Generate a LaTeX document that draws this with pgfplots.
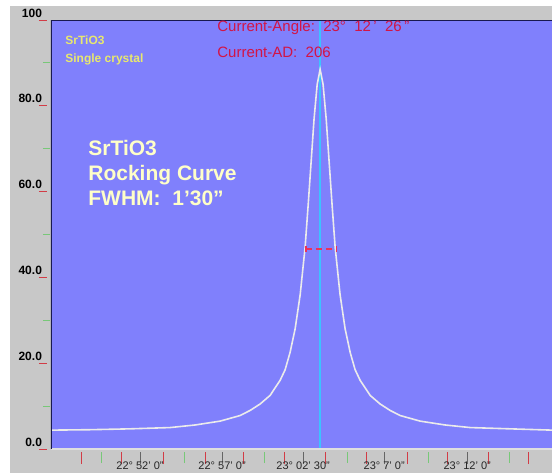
\documentclass[border=0pt]{standalone}
\usepackage{pgfplots}
\pgfplotsset{compat=1.18}
\usepackage{fontspec}
\setmainfont{Liberation Sans}

\definecolor{plotbg}{RGB}{128,128,252}
\definecolor{panelgrey}{RGB}{200,200,200}
\definecolor{navyline}{RGB}{25,25,80}
\definecolor{tickred}{RGB}{210,60,70}
\definecolor{tickgreen}{RGB}{120,200,120}
\definecolor{curvecol}{RGB}{235,235,235}
\definecolor{peakcyan}{RGB}{60,195,255}
\definecolor{smallyellow}{RGB}{232,232,110}
\definecolor{cream}{RGB}{255,255,200}
\definecolor{redtext}{RGB}{210,20,70}
\definecolor{fwhmred}{RGB}{235,50,90}

\begin{document}
\begin{tikzpicture}
\path[use as bounding box] (-25.5pt,-12pt) rectangle (250.5pt,224.5pt);
\fill[white] (-25.5pt,-12pt) rectangle (250.5pt,224.5pt);
\fill[panelgrey] (-20.5pt,-12pt) rectangle (250.5pt,221.5pt);

% data axis with y ticks
\begin{axis}[
    at={(0pt,0pt)}, anchor=south west,
    scale only axis,
    width=250.5pt, height=214.5pt,
    xmin=46.55, xmax=77.21,
    ymin=0, ymax=100,
    axis background/.style={fill=plotbg},
    axis line style={draw=none},
    xtick=\empty,
    ytick={0,20,40,60,80,100},
    yticklabels={0.0,20.0,40.0,60.0,80.0,100},
    minor ytick={10,30,50,70,90},
    ytick pos=left,
    tick align=outside,
    major tick length=4pt,
    minor tick length=3.5pt,
    major tick style={draw=tickred, line width=0.5pt, xshift=-2pt},
    minor tick style={draw=tickgreen, line width=0.5pt, xshift=-0.5pt},
    yticklabel style={font=\bfseries\fontsize{6}{6}\selectfont, text=black, xshift=3pt, yshift=3.5pt},
    clip=true,
]
\addplot[peakcyan, line width=0.8pt] coordinates {(63.02,0) (63.02,100)};
\addplot[curvecol, line width=0.8pt] coordinates {
    (46.55,4.4) (48.94,4.5) (51.39,4.7) (53.84,5.0) (55.37,5.6) (56.90,6.5)
    (58.12,7.8) (58.74,9.0) (59.35,10.5) (59.96,12.5) (60.57,16) (60.88,18.5)
    (61.18,22.5) (61.49,28) (61.80,36) (62.10,47) (62.29,57) (62.47,67)
    (62.65,77) (62.84,85) (63.02,88.5) (63.20,85) (63.39,77) (63.57,67)
    (63.75,57) (63.94,47) (64.24,36) (64.55,28) (64.86,22.5) (65.16,18.5)
    (65.47,16) (66.08,12.5) (66.69,10.5) (67.30,9.0) (67.92,7.8) (69.14,6.5)
    (70.67,5.6) (72.20,5.0) (74.65,4.7) (77.21,4.4)
};
\addplot[fwhmred, line width=0.6pt, densely dashed, mark=|, mark options={solid}, mark size=1.5pt] coordinates {(62.16,46.6) (64.0,46.6)};
\draw[white!75!gray, line width=0.6pt] (rel axis cs:0,0) -- (rel axis cs:1,0);
\draw[navyline, line width=1pt] (rel axis cs:0,0) -- (rel axis cs:0,1) -- (rel axis cs:1,1);
\end{axis}

% overlay axis for the x ticks
\begin{axis}[
    at={(0pt,0pt)}, anchor=south west,
    scale only axis,
    width=250.5pt, height=214.5pt,
    xmin=46.55, xmax=77.21,
    ymin=0, ymax=100,
    axis line style={draw=none},
    ytick=\empty,
    xtick={48.43,50.87,53.45,55.98,58.35,60.85,63.37,65.88,68.38,70.84,73.35,75.8},
    xticklabels={},
    minor xtick={49.67,54.69,59.59,64.67,69.63,74.6},
    extra x ticks={52,57.02,61.98,66.94,72.02},
    extra x tick labels={22° 52' 0", 22° 57' 0", 23° 02' 30", 23° 7' 0", 23° 12' 0"},
    extra x tick style={major tick style={draw=black!60}},
    xtick pos=bottom,
    tick align=outside,
    major tick length=6pt,
    minor tick length=5.5pt,
    major tick style={draw=tickred, line width=0.5pt, yshift=-1.5pt},
    minor tick style={draw=tickgreen, line width=0.5pt, yshift=-1.5pt},
    xticklabel style={font=\fontsize{5.5}{5.5}\selectfont, text=black!85, inner sep=0.5pt, yshift=0.5pt},
]
\addplot[draw=none] coordinates {(50,50)};
\end{axis}

\node[anchor=west, inner sep=0pt, text=smallyellow, font=\bfseries\fontsize{6}{7}\selectfont] at (7pt,204.5pt) {SrTiO3};
\node[anchor=west, inner sep=0pt, text=smallyellow, font=\bfseries\fontsize{6}{7}\selectfont] at (7pt,195pt) {Single crystal};
\node[anchor=west, inner sep=0pt, text=redtext, font=\fontsize{7.5}{9}\selectfont] at (83pt,210.5pt) {Current-Angle:\ \ 23°\ \ 12\,'\ \ 26\,"};
\node[anchor=west, inner sep=0pt, text=redtext, font=\fontsize{7.5}{9}\selectfont] at (83pt,198.5pt) {Current-AD:\ \ 206};
\node[anchor=west, inner sep=0pt, align=left, text=cream, font=\bfseries\fontsize{10.5}{12.5}\selectfont] at (18.5pt,138pt) {SrTiO3\\Rocking Curve\\FWHM:\ \ 1'30''};
\end{tikzpicture}
\end{document}
